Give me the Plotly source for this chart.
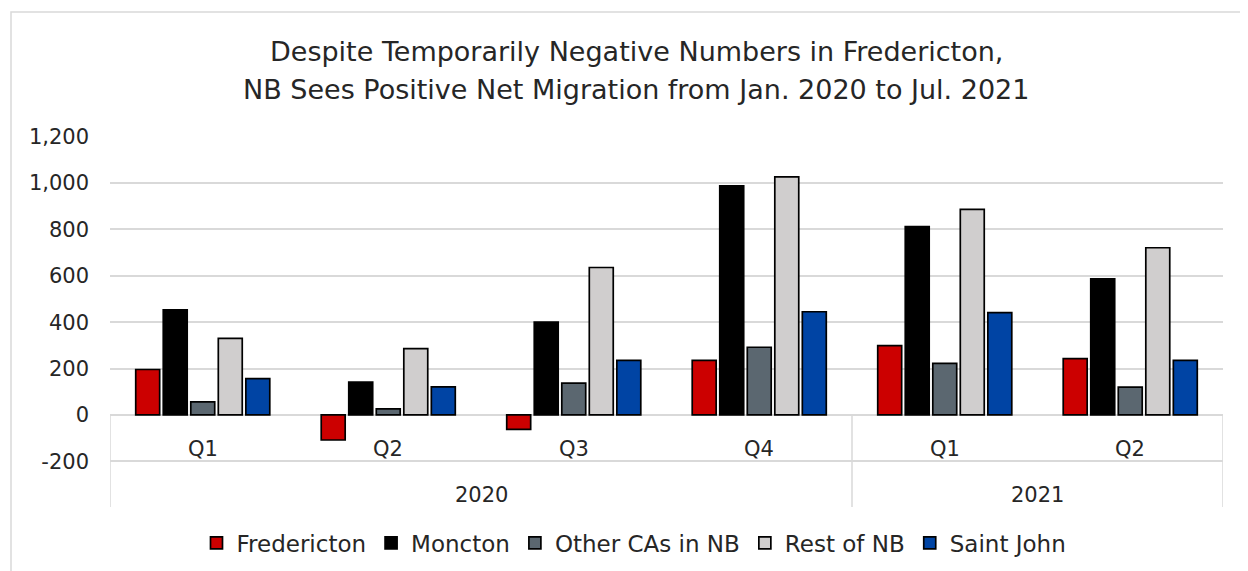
import plotly.graph_objects as go

# ---- data ----
years = ["2020", "2020", "2020", "2020", "2021", "2021"]
quarters = ["Q1", "Q2", "Q3", "Q4", "Q1", "Q2"]
fredericton = [196, -108, -62, 235, 299, 243]
moncton = [453, 142, 400, 988, 812, 587]
other_cas = [56, 26, 137, 292, 222, 120]
rest_nb = [330, 286, 636, 1027, 887, 721]
saint_john = [157, 121, 235, 445, 441, 235]
y_tickvals = [-200, 0, 200, 400, 600, 800, 1000, 1200]
y_ticktext = ["-200", "0", "200", "400", "600", "800", "1,000", "1,200"]

series = [
    ("Fredericton", fredericton, "#CC0000"),
    ("Moncton", moncton, "#000000"),
    ("Other CAs in NB", other_cas, "#5B6770"),
    ("Rest of NB", rest_nb, "#D0CECE"),
    ("Saint John", saint_john, "#0044A4"),
]

W, H = 1248, 571
OFF = 8  # page body margin
FONT = "DejaVu Sans"
GRID = "#D9D9D9"
TXT = "#262626"


def X(p):
    return (p - OFF) / W


def Y(p):
    return 1 - (p - OFF) / H


# plot area in (screen) pixels
px_l, px_r, px_t, px_b = 110, 1223, 136.7, 507
y_min, y_max = -397, 1200

xs = list(range(len(quarters)))

fig = go.Figure()
for name, vals, col in series:
    fig.add_trace(go.Bar(
        x=xs, y=vals, name=name,
        marker=dict(color=col, line=dict(color="#000000", width=1.7)),
    ))

fig.update_layout(
    width=W, height=H,
    margin=dict(l=0, r=0, t=0, b=0, autoexpand=False),
    paper_bgcolor="white", plot_bgcolor="white",
    barmode="group", bargap=0.258, bargroupgap=0.13,
    font=dict(family=FONT, size=20, color=TXT),
    showlegend=True,
    legend=dict(orientation="h", x=X(634), xanchor="center", y=Y(543), yanchor="middle",
                font=dict(size=23, color=TXT), itemwidth=30, traceorder="normal"),
    xaxis=dict(domain=[X(px_l), X(px_r)], range=[-0.5, len(quarters) - 0.5],
               showticklabels=False, showgrid=False, zeroline=False, showline=False,
               automargin=False),
    yaxis=dict(domain=[Y(px_b), Y(px_t)], range=[y_min, y_max],
               tickvals=y_tickvals, ticktext=y_ticktext,
               showgrid=True, gridcolor=GRID, gridwidth=1.5,
               zeroline=True, zerolinecolor=GRID, zerolinewidth=1.5,
               showline=False, ticklabelstandoff=20, automargin=False,
               tickfont=dict(size=21, color=TXT)),
)

# category axis dividers (Excel-style multi-level axis)
for xv in [-0.5, 3.5, len(quarters) - 0.5]:
    fig.add_shape(type="line", xref="x", yref="y", x0=xv, x1=xv, y0=0, y1=y_min,
                  line=dict(color=GRID, width=1.5))

# quarter labels
for i, q in enumerate(quarters):
    fig.add_annotation(x=i, y=-147, xref="x", yref="y", text=q, showarrow=False,
                       font=dict(size=21, color=TXT), yanchor="middle")
# year labels
groups = {}
for i, yv in enumerate(years):
    groups.setdefault(yv, []).append(i)
for yv, idx in groups.items():
    fig.add_annotation(x=sum(idx) / len(idx), y=-345, xref="x", yref="y", text=yv,
                       showarrow=False, font=dict(size=21, color=TXT), yanchor="middle")

# title
fig.add_annotation(x=X(636), y=Y(52), xref="paper", yref="paper",
                   text="Despite Temporarily Negative Numbers in Fredericton,",
                   showarrow=False, font=dict(size=27, color=TXT), yanchor="middle")
fig.add_annotation(x=X(636), y=Y(90), xref="paper", yref="paper",
                   text="NB Sees Positive Net Migration from Jan. 2020 to Jul. 2021",
                   showarrow=False, font=dict(size=27, color=TXT), yanchor="middle")

# chart frame
fig.add_shape(type="rect", xref="paper", yref="paper", x0=X(11), x1=1.05, y0=-0.05, y1=Y(12),
              line=dict(color=GRID, width=1.5), layer="below")

fig.write_html("out.html")
